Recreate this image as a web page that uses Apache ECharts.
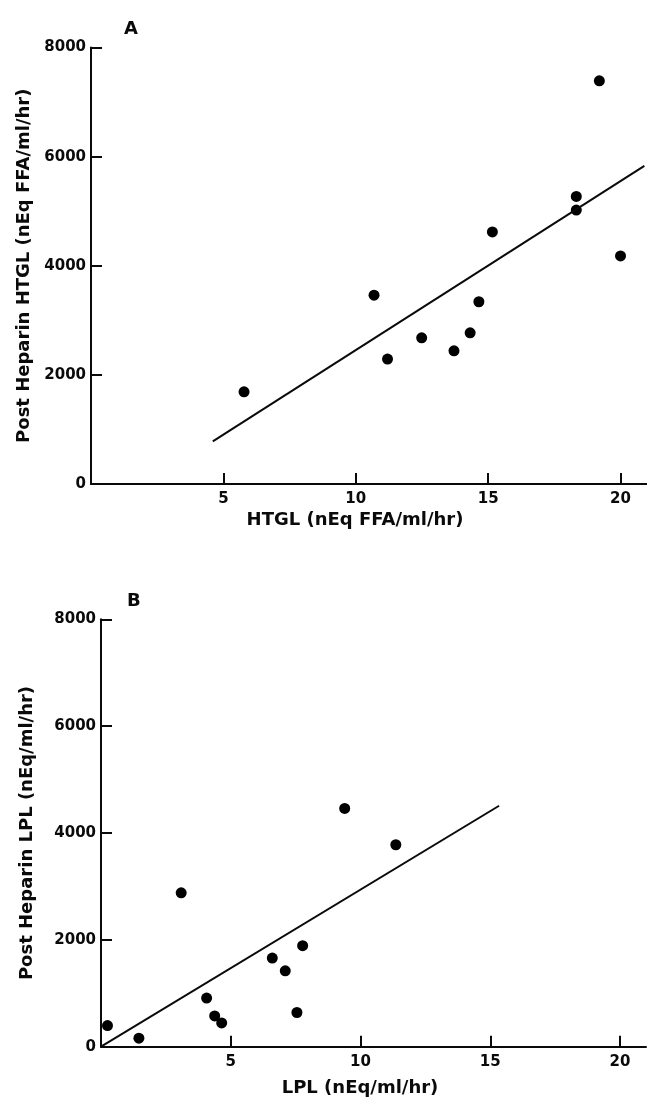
<!DOCTYPE html>
<html>
<head>
<meta charset="utf-8">
<script src="https://cdn.jsdelivr.net/npm/echarts@6/dist/echarts.min.js"></script>
<style>
  html, body { margin: 0; padding: 0; background: #fff; }
  #chart { width: 647px; height: 1100px; }
</style>
</head>
<body>
<div id="chart"></div>
<script>
// panel A: HTGL vs post heparin HTGL
var htglX = [19.2, 18.33, 18.33, 15.16, 20.0, 10.69, 14.65, 14.32, 12.49, 13.71, 11.2, 5.78];
var htglY = [7390, 5270, 5020, 4620, 4180, 3460, 3340, 2770, 2680, 2440, 2290, 1690];
var htglFit = [[4.6, 780], [20.9, 5830]];

// panel B: LPL vs post heparin LPL
var lplX = [3.09, 7.77, 6.6, 7.1, 4.07, 4.38, 4.65, 7.55, 0.25, 1.46, 11.36, 9.39];
var lplY = [2880, 1890, 1660, 1420, 910, 575, 445, 640, 395, 160, 3780, 4460];
var lplFit = [[0, 0], [15.34, 4510]];

var yTicks = [0, 2000, 4000, 6000, 8000];
var xTicks = [5, 10, 15, 20];

function pairs(xs, ys) {
  return xs.map(function (x, i) { return [x, ys[i]]; });
}

var font = 'DejaVu Sans';
var ink = '#0a0a0a';

function plain(v) { return String(v); }

function xAxisFor(gridIndex, name, gap, pad) {
  return {
    gridIndex: gridIndex,
    type: 'value',
    min: 0,
    max: 21,
    interval: 5,
    name: name,
    nameLocation: 'middle',
    nameGap: gap,
    nameTextStyle: { fontFamily: font, fontWeight: 'bold', fontSize: 18, color: ink, padding: [0, pad, 0, 0] },
    axisLine: { lineStyle: { color: ink, width: 2 } },
    axisTick: { inside: true, length: 11, customValues: xTicks, lineStyle: { color: ink, width: 2 } },
    axisLabel: {
      fontFamily: font, fontWeight: 'bold', fontSize: 15, color: ink, margin: 8,
      customValues: xTicks, formatter: plain
    },
    splitLine: { show: false }
  };
}

function yAxisFor(gridIndex, name, gap) {
  return {
    gridIndex: gridIndex,
    type: 'value',
    min: 0,
    max: 8000,
    interval: 2000,
    name: name,
    nameLocation: 'middle',
    nameGap: gap,
    nameTextStyle: { fontFamily: font, fontWeight: 'bold', fontSize: 18, color: ink },
    axisLine: { lineStyle: { color: ink, width: 2 } },
    axisTick: { inside: true, length: 11, customValues: yTicks, lineStyle: { color: ink, width: 2 } },
    axisLabel: {
      fontFamily: font, fontWeight: 'bold', fontSize: 15, color: ink, margin: 5,
      customValues: yTicks, formatter: plain
    },
    splitLine: { show: false }
  };
}

var chart = echarts.init(document.getElementById('chart'));

var option = {
  animation: false,
  backgroundColor: '#fff',
  title: [
    { text: 'A', left: 119, top: 15, textStyle: { fontFamily: font, fontWeight: 'bold', fontSize: 18, color: ink } },
    { text: 'B', left: 122, top: 587, textStyle: { fontFamily: font, fontWeight: 'bold', fontSize: 18, color: ink } }
  ],
  grid: [
    { left: 91, top: 47.5, width: 558.6, height: 436.5 },
    { left: 101, top: 619.3, width: 545, height: 427.4 }
  ],
  xAxis: [
    xAxisFor(0, 'HTGL (nEq FFA/ml/hr)', 27, 28),
    xAxisFor(1, 'LPL (nEq/ml/hr)', 33, 27)
  ],
  yAxis: [
    yAxisFor(0, 'Post Heparin HTGL (nEq FFA/ml/hr)', 56),
    yAxisFor(1, 'Post Heparin LPL (nEq/ml/hr)', 65)
  ],
  series: [
    {
      type: 'scatter', xAxisIndex: 0, yAxisIndex: 0,
      symbolSize: 11, itemStyle: { color: '#000', opacity: 1 },
      data: pairs(htglX, htglY)
    },
    {
      type: 'line', xAxisIndex: 0, yAxisIndex: 0,
      symbol: 'none', lineStyle: { color: ink, width: 2 },
      data: htglFit
    },
    {
      type: 'scatter', xAxisIndex: 1, yAxisIndex: 1,
      symbolSize: 11, itemStyle: { color: '#000', opacity: 1 },
      data: pairs(lplX, lplY)
    },
    {
      type: 'line', xAxisIndex: 1, yAxisIndex: 1,
      symbol: 'none', lineStyle: { color: ink, width: 2 },
      data: lplFit
    }
  ]
};

chart.setOption(option);
</script>
</body>
</html>
